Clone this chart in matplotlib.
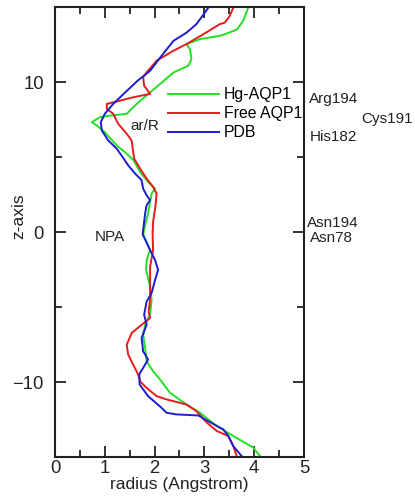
import matplotlib
matplotlib.use("Agg")
import matplotlib.pyplot as plt
from matplotlib.ticker import MultipleLocator

plt.rcParams['font.family'] = ['Liberation Sans', 'DejaVu Sans']

# pore radius profiles (z in Angstrom, radius in Angstrom)
z_hg = [14.97, 14.09, 13.5, 13.2, 13.09, 12.87, 12.54, 12.2, 11.54, 11.1, 10.65, 9.99,
        9.32, 8.55, 7.89, 7.77, 7.66, 7.33, 7.11, 6.66, 5.78, 5.23, 4.78, 4.0, 3.34,
        2.9, 2.57, 2.01, 1.24, 0.47, -0.15, -1.2, -1.86, -2.52, -3.63, -4.52, -5.51,
        -6.18, -6.84, -7.73, -8.62, -9.28, -9.83, -10.72, -11.5, -12.05, -12.94,
        -13.6, -14.37, -14.95]
r_hg = [3.88, 3.78, 3.65, 3.41, 3.31, 2.91, 2.64, 2.71, 2.74, 2.68, 2.38, 2.15,
        1.91, 1.64, 1.44, 1.10, 0.90, 0.74, 0.84, 1.0, 1.24, 1.44, 1.58, 1.71, 1.87,
        2.01, 1.94, 1.91, 1.87, 1.81, 1.77, 1.91, 1.84, 1.83, 1.91, 1.94, 1.91,
        1.81, 1.77, 1.81, 1.84, 1.97, 2.11, 2.31, 2.64, 2.91, 3.25,
        3.58, 3.98, 4.12]

z_free = [14.97, 14.42, 13.97, 13.87, 13.2, 12.54, 12.1, 11.43, 10.65, 10.32, 9.77,
          9.22, 8.99, 8.77, 8.55, 8.22, 7.89, 7.22, 6.56, 6.11, 5.34, 4.9, 4.23, 3.57,
          3.01, 2.57, 1.79, 0.69, -0.15, -1.2, -2.3, -3.63, -4.52, -5.3, -5.73, -6.18,
          -6.73, -7.51, -8.17, -8.84, -9.5, -10.0, -10.39, -10.94, -11.16, -11.5,
          -11.94, -12.71, -13.27, -13.6, -14.27, -14.95]
r_free = [3.58, 3.51, 3.41, 3.31, 2.98, 2.64, 2.38, 2.04, 1.84, 1.77, 1.79,
          1.91, 1.57, 1.31, 1.04, 1.04, 1.17, 1.27, 1.44, 1.54, 1.57, 1.59, 1.71, 1.84,
          1.97, 2.04, 2.02, 1.97, 1.96, 1.97, 1.91, 1.91, 1.91, 1.88, 1.91, 1.74,
          1.54, 1.44, 1.47, 1.57, 1.67, 1.72, 1.84, 2.04, 2.24, 2.64,
          2.84, 3.05, 3.25, 3.48, 3.58, 3.65]

z_pdb = [14.97, 14.5, 13.87, 13.3, 12.76, 11.76, 10.76, 10.1, 9.32, 8.55, 7.89, 7.33,
         6.78, 6.11, 5.56, 4.95, 4.45, 3.9, 3.46, 2.9, 2.46, 2.13, 1.79, 1.24, 0.69,
         -0.15, -1.2, -1.86, -2.52, -3.19, -4.07, -4.63, -5.51, -6.18, -7.06, -7.95,
         -8.5, -9.06, -9.5, -10.17, -10.94, -11.72, -12.05, -12.16, -12.23, -12.49,
         -13.16, -13.6, -14.27, -14.95]
r_pdb = [3.08, 2.98, 2.84, 2.64, 2.38, 2.14, 1.91, 1.66, 1.41, 1.17, 1.0, 0.92,
         0.94, 1.07, 1.24, 1.37, 1.47, 1.61, 1.74, 1.77, 1.84, 1.91, 1.84, 1.81, 1.79,
         1.76, 1.91, 2.01, 2.07, 2.01, 1.94, 1.84, 1.79, 1.84, 1.74, 1.77,
         1.87, 1.77, 1.69, 1.70, 1.87, 2.14, 2.24, 2.44, 2.88, 3.01,
         3.38, 3.48, 3.58, 3.75]

labels = ['Hg-AQP1', 'Free AQP1', 'PDB']
colors = ['#22e022', '#e41c1c', '#1c1cd0']

residues = ['Arg194', 'Cys191', 'His182', 'Asn194', 'Asn78']
res_r = [5.1, 6.15, 5.12, 5.06, 5.12]
res_z = [8.9, 7.57, 6.31, 0.6, -0.4]

fig = plt.figure(figsize=(4.15, 4.97), dpi=100)
ax = fig.add_axes([0.1325, 0.0805, 0.6, 0.905])

for zz, rr, lab, col in zip([z_hg, z_free, z_pdb], [r_hg, r_free, r_pdb], labels, colors):
    ax.plot(rr, zz, color=col, lw=1.4, label=lab)

ax.set_xlim(0, 5)
ax.set_ylim(-15, 15)
ax.xaxis.set_major_locator(MultipleLocator(1))
ax.xaxis.set_minor_locator(MultipleLocator(0.5))
ax.yaxis.set_major_locator(MultipleLocator(10))
ax.yaxis.set_minor_locator(MultipleLocator(5))
ax.tick_params(which='both', direction='in', top=True, right=True, width=1.3,
               labelsize=13.3, colors='#222222')
ax.tick_params(which='major', length=8)
ax.tick_params(which='minor', length=5)
ax.tick_params(axis='x', pad=2)
ax.tick_params(axis='y', pad=8)
for s in ax.spines.values():
    s.set_linewidth(1.5)
    s.set_color('#222222')

ax.set_xlabel('radius (Angstrom)', fontsize=12.5, color='#222222', labelpad=0)
ax.set_ylabel('z-axis', fontsize=12.5, color='#222222')
ax.yaxis.set_label_coords(-0.115, 0.535)

ax.legend(loc='upper left', bbox_to_anchor=(0.455, 0.822), frameon=False,
          fontsize=11.4, handlelength=3.2, handletextpad=0.3, labelspacing=0.25,
          borderpad=0, borderaxespad=0)

ax.text(1.52, 7.1, 'ar/R', fontsize=11, color='#222222', va='center')
ax.text(0.8, -0.3, 'NPA', fontsize=11, color='#222222', va='center')
for name, rx, zy in zip(residues, res_r, res_z):
    ax.text(rx, zy, name, fontsize=11, color='#222222', va='center', clip_on=False)

fig.savefig('out.png', dpi=100)
